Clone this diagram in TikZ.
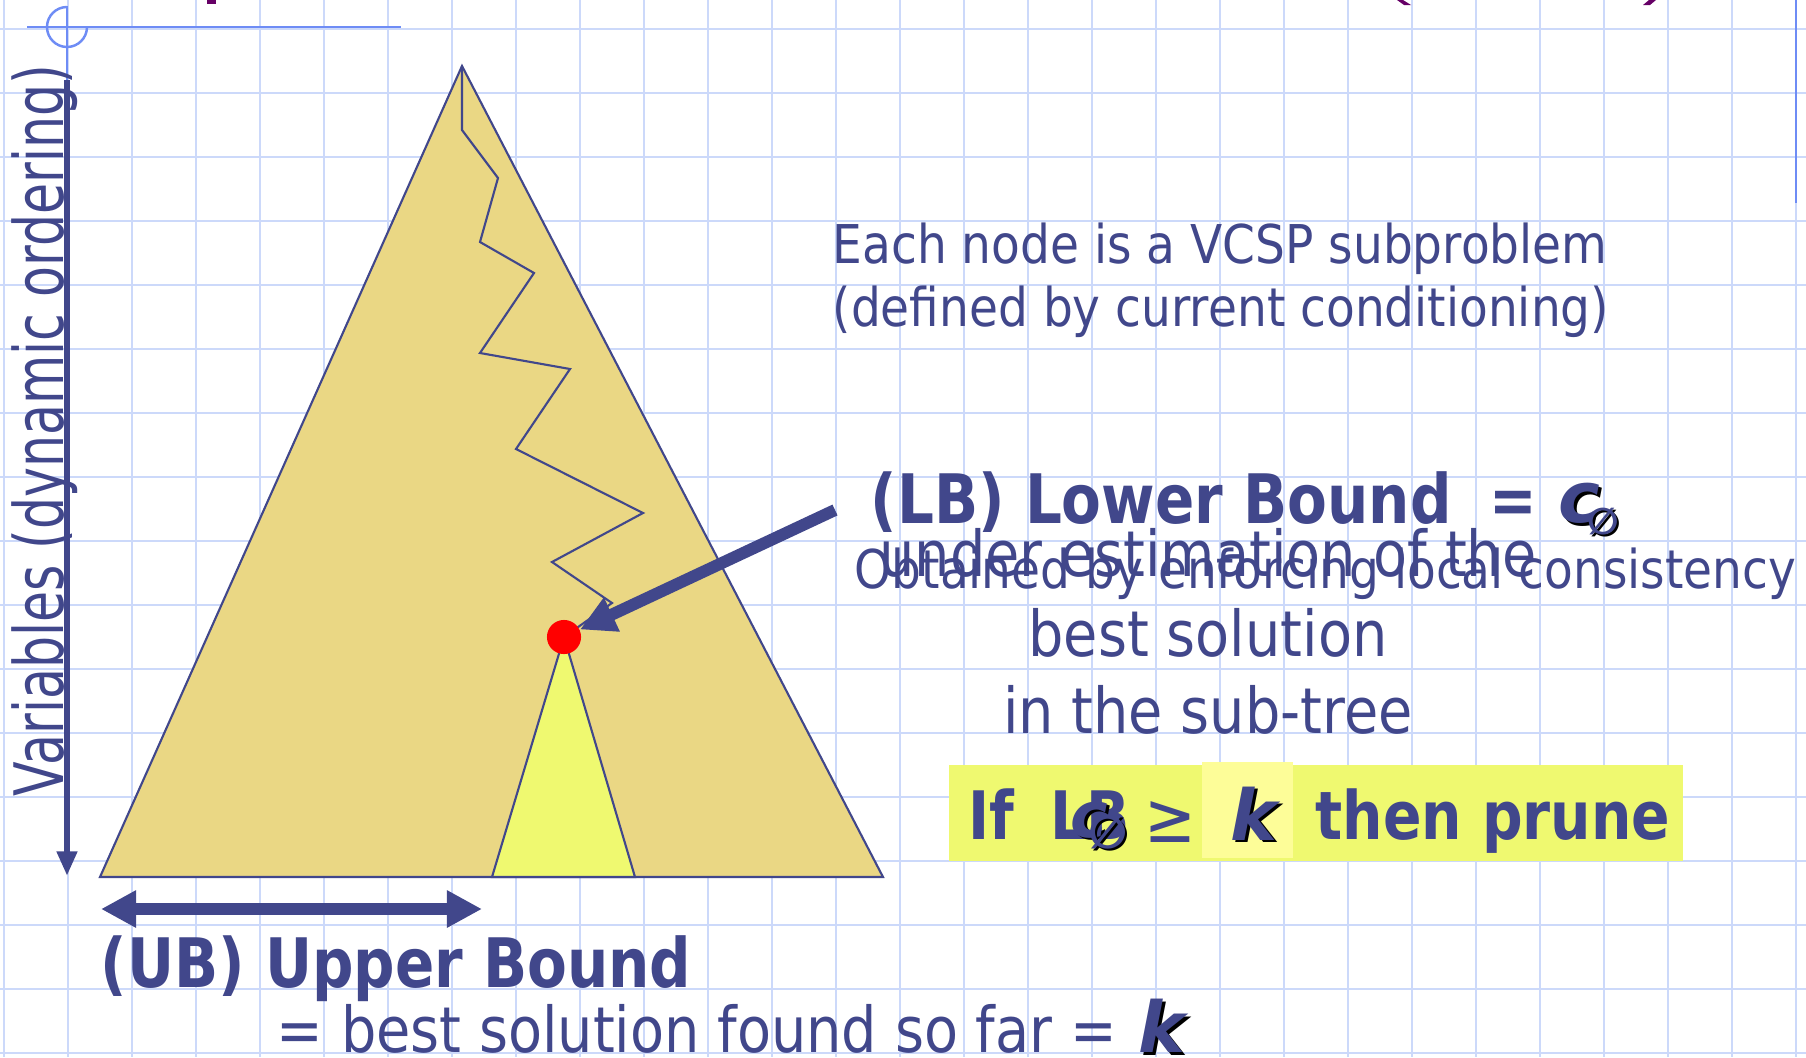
\documentclass[tikz,border=0pt]{standalone}
\usepackage{fontspec}
\setmainfont{DejaVu Sans}
\newfontfamily\tahoma{DejaVu Sans}[FakeStretch=0.88]
\newfontfamily\tahomabf{DejaVu Sans}[FakeStretch=0.85]
\newfontfamily\symfont{DejaVu Sans}
\usetikzlibrary{arrows.meta}
\definecolor{InkBlue}{RGB}{65,71,139}
\definecolor{GridBlue}{RGB}{204,217,250}
\definecolor{TemplateBlue}{RGB}{110,140,245}
\definecolor{TreeTan}{RGB}{234,215,132}
\definecolor{PruneYellow}{RGB}{239,249,112}
\definecolor{PaleYellow}{RGB}{253,253,152}
\definecolor{TitlePurple}{RGB}{102,0,102}
\tikzset{
  gridline/.style={GridBlue, line width=0.6pt},
  tmpl/.style={TemplateBlue, line width=0.7pt},
  txt/.style={text=InkBlue, inner sep=0pt, anchor=base west},
  small/.style={txt, font=\tahoma\fontsize{15.2}{18}\selectfont},
  big/.style={txt, font=\tahoma\fontsize{18}{22}\selectfont},
  heavy/.style={txt, font=\tahomabf\bfseries\fontsize{19}{23}\selectfont},
  heading/.style={txt, font=\tahomabf\bfseries\fontsize{19.4}{23}\selectfont},
  kslant/.style={txt, font=\symfont\bfseries\itshape\fontsize{#1}{#1}\selectfont},
  branch/.style={InkBlue, line width=0.6pt, line join=miter},
  fatarrow/.style={InkBlue, line width=3.4pt, -{Triangle[length=10pt,width=10pt]}},
  span/.style={InkBlue, line width=3.6pt, {Triangle[length=10pt,width=10pt]}-{Triangle[length=10pt,width=10pt]}},
  axisarrow/.style={InkBlue, line width=1.9pt, -{Triangle[length=7pt,width=5.5pt]}},
  dot/.style={circle, fill=red, minimum size=9.7pt, inner sep=0pt}
}

\begin{document}
\begin{tikzpicture}[x=0.01cm, y=-0.01cm]
  \useasboundingbox (0,0) rectangle (1806,1057);
  \clip (0,0) rectangle (1806,1057);
  % background grid
  \foreach \gx in {0,...,28}
    \draw[gridline] ({4+64*\gx},0) -- ({4+64*\gx},1057);
  \foreach \gy in {0,...,16}
    \draw[gridline] (0,{29+64*\gy}) -- (1806,{29+64*\gy});
  % slide template
  \draw[tmpl] (27,27) -- (401,27);
  \draw[tmpl] (67,7) arc[start angle=-90, end angle=-360, radius=20];
  \draw[tmpl] (67,6) -- (67,80);
  \draw[tmpl] (1796,0) -- (1796,203);
  \fill[TitlePurple] (207,0) rectangle (216,4);
  \fill[TitlePurple] (1397,0) -- (1403,0) -- (1411,5) -- (1404,5) -- cycle;
  \fill[TitlePurple] (1649,0) -- (1656,0) -- (1650,5) -- (1643,5) -- cycle;

  % search tree
  \coordinate (apex) at (462,66);
  \coordinate (baseL) at (100,877);
  \coordinate (baseR) at (883,877);
  \coordinate (curpt) at (564,637);
  \filldraw[fill=TreeTan, draw=InkBlue, line width=0.6pt] (apex) -- (baseL) -- (baseR) -- cycle;
  \filldraw[fill=PruneYellow, draw=InkBlue, line width=0.6pt] (curpt) -- (492,877) -- (635,877) -- cycle;
  \draw[branch] (apex) -- (462,130) -- (498,178) -- (480,242) -- (534,273) -- (480,353)
    -- (570,369) -- (516,449) -- (643,513) -- (552,562) -- (612,603) -- (curpt);
  \node[dot] (cur) at (curpt) {};

  % variables axis
  \node[txt, font=\tahoma\fontsize{19.4}{23}\selectfont, rotate=90] (vars) at (63,797)
    {\scalebox{0.842}[1]{Variables (dynamic ordering)}};
  \coordinate (axtop) at (67,80);
  \coordinate (axbot) at (67,876);
  \draw[axisarrow] (axtop) -- (axbot);

  % explanation
  \node[small] (node1) at (832,263) {Each node is a VCSP subproblem};
  \node[small] (node2) at (832,326) {(defined by current conditioning)};

  % lower bound
  \node[heading] (lb) at (870,523) {(LB) Lower Bound};
  \node[heavy] (lbeq) at (1489,523) {=};
  \node[kslant=20, text=black] at (1561,525) {c};
  \node[kslant=20] (lbc) at (1558,522) {c};
  \node[kslant=10.5, text=black] at (1589,536) {∅};
  \node[kslant=10.5] (lbnull) at (1587,534) {∅};
  \node[small] (lc) at (854,588) {Obtained by enforcing local consistency};
  \node[big, anchor=base] (est1) at (1208,576) {under estimation of the};
  \node[big, anchor=base] (est2) at (1208,656) {best solution};
  \node[big, anchor=base] (est3) at (1208,733) {in the sub-tree};
  \coordinate (lbfrom) at (835,510);
  \draw[fatarrow] (lbfrom) -- (cur);

  % pruning rule
  \fill[PruneYellow] (949,765) rectangle (1683,861);
  \fill[PaleYellow] (1202,762) rectangle (1293,858);
  \node[heavy] (if) at (968,839) {If};
  \node[heavy] (lbtag) at (1050,839) {LB};
  \node[kslant=18, text=black] at (1073,839) {c};
  \node[kslant=18] (rulec) at (1070,837) {c};
  \node[kslant=13, text=black] at (1090,850) {∅};
  \node[kslant=13] (rulenull) at (1088,848) {∅};
  \node[txt, font=\tahoma\fontsize{20}{24}\selectfont] (geq) at (1144,842) {≥};
  \node[kslant=20, text=black] at (1233,842) {k};
  \node[kslant=20] (rulek) at (1230,840) {k};
  \node[heavy] (prune) at (1315,839) {then prune};

  % upper bound
  \coordinate (ubL) at (101,909);
  \coordinate (ubR) at (482,909);
  \draw[span] (ubL) -- (ubR);
  \node[heading] (ub) at (100,987) {(UB) Upper Bound};
  \node[big] (ubval) at (276,1052) {= best solution found so far =};
  \node[kslant=20, text=black] at (1141,1055) {k};
  \node[kslant=20] (ubk) at (1138,1052) {k};
\end{tikzpicture}
\end{document}
